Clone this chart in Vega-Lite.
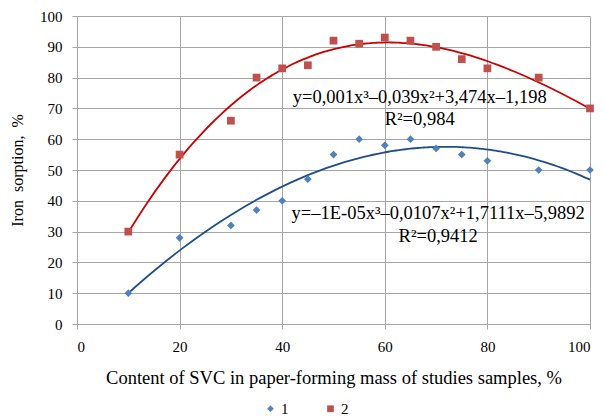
{
  "$schema": "https://vega.github.io/schema/vega-lite/v6.json",
  "autosize": {"type": "none"},
  "width": 513,
  "height": 308,
  "padding": {"left": 77, "top": 16, "right": 14, "bottom": 93},
  "background": "white",
  "config": {
    "font": "Liberation Serif",
    "view": {"stroke": null},
    "axis": {
      "labelFont": "Liberation Serif",
      "titleFont": "Liberation Serif",
      "labelFontSize": 15,
      "titleFontSize": 18.5,
      "titleFontWeight": "normal",
      "labelColor": "#000000",
      "titleColor": "#000000",
      "gridColor": "#a6a6a6",
      "gridWidth": 1,
      "domainColor": "#a6a6a6",
      "tickColor": "#a6a6a6",
      "tickSize": 5,
      "labelOverlap": false
    }
  },
  "datasets": {
    "pts": [
      {"x": 10, "y": 10, "series": "1"},
      {"x": 20, "y": 28, "series": "1"},
      {"x": 30, "y": 32, "series": "1"},
      {"x": 35, "y": 37, "series": "1"},
      {"x": 40, "y": 40, "series": "1"},
      {"x": 45, "y": 47, "series": "1"},
      {"x": 50, "y": 55, "series": "1"},
      {"x": 55, "y": 60, "series": "1"},
      {"x": 60, "y": 58, "series": "1"},
      {"x": 65, "y": 60, "series": "1"},
      {"x": 70, "y": 57, "series": "1"},
      {"x": 75, "y": 55, "series": "1"},
      {"x": 80, "y": 53, "series": "1"},
      {"x": 90, "y": 50, "series": "1"},
      {"x": 100, "y": 50, "series": "1"},
      {"x": 10, "y": 30, "series": "2"},
      {"x": 20, "y": 55, "series": "2"},
      {"x": 30, "y": 66, "series": "2"},
      {"x": 35, "y": 80, "series": "2"},
      {"x": 40, "y": 83, "series": "2"},
      {"x": 45, "y": 84, "series": "2"},
      {"x": 50, "y": 92, "series": "2"},
      {"x": 55, "y": 91, "series": "2"},
      {"x": 60, "y": 93, "series": "2"},
      {"x": 65, "y": 92, "series": "2"},
      {"x": 70, "y": 90, "series": "2"},
      {"x": 75, "y": 86, "series": "2"},
      {"x": 80, "y": 83, "series": "2"},
      {"x": 90, "y": 80, "series": "2"},
      {"x": 100, "y": 70, "series": "2"}
    ],
    "notes": [
      {"x": 66.8, "y": 73.7, "label": "y=0,001x³–0,039x²+3,474x–1,198"},
      {"x": 66.8, "y": 66.4, "label": "R²=0,984"},
      {"x": 70.4, "y": 36.0, "label": "y=–1E-05x³–0,0107x²+1,7111x–5,9892"},
      {"x": 70.4, "y": 28.6, "label": "R²=0,9412"}
    ]
  },
  "encoding": {
    "x": {
      "field": "x", "type": "quantitative",
      "scale": {"domain": [0, 100], "nice": false},
      "axis": {"values": [0, 20, 40, 60, 80, 100], "title": "Content of SVC in paper-forming mass of studies samples, %", "labelFont": "Liberation Serif", "labelFontSize": 15, "labelPadding": 10, "titlePadding": 14}
    },
    "y": {
      "field": "y", "type": "quantitative",
      "scale": {"domain": [0, 100], "nice": false},
      "axis": {"values": [0, 10, 20, 30, 40, 50, 60, 70, 80, 90, 100], "title": "Iron\u00a0 sorption,\u00a0 %", "labelFont": "Liberation Serif", "labelFontSize": 15, "titleFontSize": 16, "labelPadding": 10, "titlePadding": 14}
    }
  },
  "layer": [
    {
      "data": {"name": "pts"},
      "transform": [
        {"filter": "datum.series === '1'"},
        {"regression": "y", "on": "x", "method": "poly", "order": 3, "extent": [10, 100]}
      ],
      "mark": {"type": "line", "strokeWidth": 1.8, "interpolate": "monotone", "color": "#1f4e8c"},
      "encoding": {}
    },
    {
      "data": {"name": "pts"},
      "transform": [
        {"filter": "datum.series === '2'"},
        {"regression": "y", "on": "x", "method": "poly", "order": 3, "extent": [10, 100]}
      ],
      "mark": {"type": "line", "strokeWidth": 1.8, "interpolate": "monotone", "color": "#cc0000"},
      "encoding": {}
    },
    {
      "data": {"name": "pts"},
      "mark": {"type": "point", "filled": true, "opacity": 1, "size": 60},
      "encoding": {
        "color": {
          "field": "series", "type": "nominal",
          "scale": {"domain": ["1", "2"], "range": ["#4f81bd", "#c0504d"]},
          "legend": {"orient": "none", "legendX": 186, "legendY": 385, "direction": "horizontal", "title": null, "labelFont": "Liberation Serif", "labelFontSize": 15, "labelColor": "#000000", "symbolSize": 45, "columnPadding": 34, "labelOffset": 3}
        },
        "shape": {
          "field": "series", "type": "nominal",
          "scale": {"domain": ["1", "2"], "range": ["diamond", "square"]}
        }
      }
    },
    {
      "data": {"name": "notes"},
      "mark": {"type": "text", "font": "Liberation Serif", "fontSize": 18.5, "color": "#000000", "align": "center", "baseline": "middle"},
      "encoding": {
        "text": {"field": "label"}
      }
    }
  ]
}
